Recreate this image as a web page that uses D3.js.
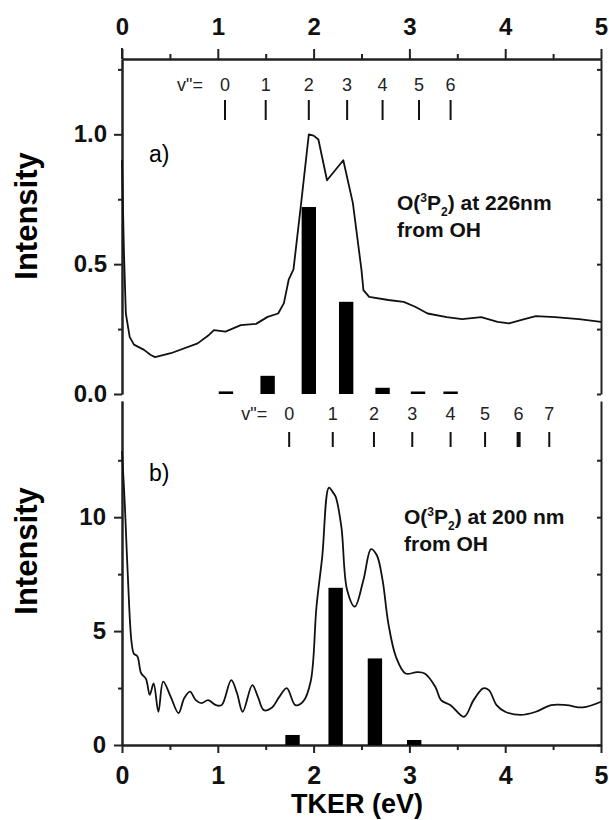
<!DOCTYPE html>
<html>
<head>
<meta charset="utf-8">
<script src="https://cdn.jsdelivr.net/npm/d3@7"></script>
<style>
  body { margin: 0; background: #fff; }
  svg { display: block; font-family: "Liberation Sans", Arial, sans-serif; }
  .axis path, .axis line { stroke: #222; stroke-width: 2; }
  .axis text { font-weight: bold; fill: #111; }
</style>
</head>
<body>
<svg id="chart" width="609" height="820"></svg>
<script>
// ---- data ----
// panel a: O(3P2) at 226 nm
var levelsA = [0, 1, 2, 3, 4, 5, 6];
var levelPosA = [1.075, 1.50, 1.95, 2.35, 2.72, 3.10, 3.43];
var barPosA = [1.085, 1.52, 1.95, 2.34, 2.72, 3.09, 3.43];
var barValA = [0.01, 0.07, 0.72, 0.355, 0.024, 0.008, 0.008];
var lineEnergyA = [0, 0.02, 0.04, 0.08, 0.125, 0.23, 0.3, 0.345, 0.51, 0.79, 0.9, 0.96, 1.08, 1.24, 1.40,
  1.52, 1.63, 1.69, 1.74, 1.79, 1.87, 1.95, 2.0, 2.05, 2.14, 2.31, 2.41, 2.5, 2.52, 2.58, 2.78, 2.94,
  3.06, 3.19, 3.39, 3.55, 3.75, 3.92, 4.04, 4.2, 4.32, 4.52, 4.77, 5.0];
var lineIntA = [0.9, 0.55, 0.31, 0.22, 0.19, 0.17, 0.15, 0.142, 0.157, 0.195, 0.225, 0.246, 0.24, 0.265, 0.27,
  0.297, 0.31, 0.35, 0.44, 0.48, 0.735, 1.0, 0.995, 0.98, 0.823, 0.9, 0.735, 0.477, 0.40, 0.374, 0.362, 0.355,
  0.336, 0.31, 0.296, 0.288, 0.296, 0.278, 0.272, 0.288, 0.30, 0.296, 0.288, 0.278];

// panel b: O(3P2) at 200 nm
var levelsB = [0, 1, 2, 3, 4, 5, 6, 7];
var levelPosB = [1.745, 2.2, 2.63, 3.03, 3.43, 3.79, 4.14, 4.46];
var barPosB = [1.78, 2.23, 2.64, 3.05];
var barValB = [0.44, 6.9, 3.8, 0.22];
var lineEnergyB = [0, 0.03, 0.06, 0.1, 0.125, 0.16, 0.2, 0.25, 0.29, 0.33, 0.38, 0.43, 0.51, 0.59, 0.65, 0.71,
  0.77, 0.83, 0.9, 0.98, 1.04, 1.14, 1.2, 1.26, 1.36, 1.42, 1.48, 1.56, 1.64, 1.72, 1.81, 1.89, 1.97, 2.03,
  2.09, 2.16, 2.2, 2.23, 2.29, 2.35, 2.43, 2.52, 2.6, 2.66, 2.72, 2.78, 2.86, 2.96, 3.08, 3.16, 3.27, 3.33,
  3.43, 3.57, 3.67, 3.77, 3.83, 3.91, 4.0, 4.16, 4.32, 4.48, 4.64, 4.81, 5.0];
var lineIntB = [12.9, 10.5, 7.5, 4.5, 4.0, 3.9, 3.15, 2.9, 2.2, 2.7, 1.46, 2.78, 2.1, 1.4, 2.06, 2.34,
  1.97, 1.84, 1.97, 1.75, 1.75, 2.85, 2.28, 1.46, 2.63, 2.1, 1.53, 1.62, 2.1, 2.5, 1.75, 1.9, 2.8, 6.07,
  8.26, 11.3, 11.1, 10.9, 9.57, 6.8, 6.07, 7.24, 8.6, 8.33, 7.24, 5.34, 3.87, 3.14, 3.2, 3.14, 2.56, 1.97,
  1.75, 1.24, 1.97, 2.49, 2.41, 1.75, 1.46, 1.32, 1.46, 1.75, 1.75, 1.65, 1.9];

var xTicks = [0, 1, 2, 3, 4, 5];
var xMinor = [0.5, 1.5, 2.5, 3.5, 4.5];
var yTicksA = [0, 0.5, 1.0];
var yMinorA = [0.25, 0.75, 1.25];
var yTicksB = [0, 5, 10];
var yMinorB = [2.5, 7.5, 12.5];

// ---- layout ----
var svg = d3.select("#chart");
var left = 122, right = 601;
var topA = 59, bottomA = 394;
var topB = 401, bottomB = 745;

var x = d3.scaleLinear().domain([0, 5]).range([left, right]);
var yA = d3.scaleLinear().domain([0, 1.29]).range([bottomA, topA]);
var yB = d3.scaleLinear().domain([0, 15.1]).range([bottomB, topB]);

function zip(a, b) { return a.map(function (v, i) { return [v, b[i]]; }); }

function drawAxes(g, axis, fs) {
  g.attr("class", "axis").call(axis);
  g.selectAll("text").style("font-size", fs + "px");
}

// top axis (panel a)
drawAxes(svg.append("g").attr("transform", "translate(0," + topA + ")"),
  d3.axisTop(x).tickValues(xTicks).tickSize(10).tickSizeOuter(0).tickPadding(14).tickFormat(d3.format("d")), 24);
drawAxes(svg.append("g").attr("transform", "translate(0," + topA + ")"),
  d3.axisTop(x).tickValues(xMinor).tickSize(5).tickSizeOuter(0).tickFormat(""), 24);

// bottom axis (panel b)
drawAxes(svg.append("g").attr("transform", "translate(0," + bottomB + ")"),
  d3.axisBottom(x).tickValues(xTicks).tickSize(8).tickSizeOuter(0).tickPadding(13).tickFormat(d3.format("d")), 25);
drawAxes(svg.append("g").attr("transform", "translate(0," + bottomB + ")"),
  d3.axisBottom(x).tickValues(xMinor).tickSize(5).tickSizeOuter(0).tickFormat(""), 25);

// left / right axes
drawAxes(svg.append("g").attr("transform", "translate(" + left + ",0)"),
  d3.axisLeft(yA).tickValues(yTicksA).tickSize(8).tickSizeOuter(0).tickPadding(7).tickFormat(d3.format(".1f")), 24);
drawAxes(svg.append("g").attr("transform", "translate(" + left + ",0)"),
  d3.axisLeft(yA).tickValues(yMinorA).tickSize(4).tickSizeOuter(0).tickFormat(""), 24);
drawAxes(svg.append("g").attr("transform", "translate(" + right + ",0)"),
  d3.axisRight(yA).tickValues(yTicksA.concat(yMinorA)).tickSize(-4).tickSizeOuter(0).tickFormat(""), 24);

drawAxes(svg.append("g").attr("transform", "translate(" + left + ",0)"),
  d3.axisLeft(yB).tickValues(yTicksB).tickSize(8).tickSizeOuter(0).tickPadding(8).tickFormat(d3.format("d")), 24);
drawAxes(svg.append("g").attr("transform", "translate(" + left + ",0)"),
  d3.axisLeft(yB).tickValues(yMinorB).tickSize(4).tickSizeOuter(0).tickFormat(""), 24);
drawAxes(svg.append("g").attr("transform", "translate(" + right + ",0)"),
  d3.axisRight(yB).tickValues(yTicksB.concat(yMinorB)).tickSize(-4).tickSizeOuter(0).tickFormat(""), 24);

// left frame sticks up a little above the top axis
svg.append("line").attr("x1", left).attr("x2", left).attr("y1", topA - 11).attr("y2", topA)
  .attr("stroke", "#222").attr("stroke-width", 2);

// ---- bars ----
var barW = x(0.15) - x(0);
function drawBars(pos, val, y) {
  svg.append("g").selectAll("rect").data(zip(pos, val)).enter().append("rect")
    .attr("x", function (d) { return x(d[0]) - barW / 2; })
    .attr("y", function (d) { return Math.min(y(d[1]), y(0) - 2.5); })
    .attr("width", barW)
    .attr("height", function (d) { return Math.max(y(0) - y(d[1]), 2.5); })
    .attr("fill", "#000");
}
drawBars(barPosA, barValA, yA);
drawBars(barPosB, barValB, yB);

// ---- spectra ----
function drawLine(ex, iy, y, curve) {
  var line = d3.line().x(function (d) { return x(d[0]); }).y(function (d) { return y(d[1]); })
    .curve(curve);
  svg.append("path").datum(zip(ex, iy)).attr("d", line)
    .attr("fill", "none").attr("stroke", "#111").attr("stroke-width", 1.8)
    .attr("stroke-linejoin", "round");
}
drawLine(lineEnergyA, lineIntA, yA, d3.curveLinear);
drawLine(lineEnergyB, lineIntB, yB, d3.curveCatmullRom.alpha(0.5));

// ---- vibrational level combs ----
function drawComb(levels, pos, labelY, t0, t1, boldIdx) {
  var g = svg.append("g").style("font-size", "18px").attr("fill", "#222");
  g.append("text").attr("x", x(pos[0]) - 22).attr("y", labelY).attr("text-anchor", "end").text('v"=');
  g.selectAll("text.lv").data(levels).enter().append("text").attr("class", "lv")
    .attr("x", function (d, i) { return x(pos[i]); }).attr("y", labelY)
    .attr("text-anchor", "middle").text(function (d) { return d; });
  g.selectAll("line").data(pos).enter().append("line")
    .attr("x1", function (d) { return x(d); }).attr("x2", function (d) { return x(d); })
    .attr("y1", t0).attr("y2", t1)
    .attr("stroke", "#111").attr("stroke-width", function (d, i) { return i === boldIdx ? 4 : 2; });
}
drawComb(levelsA, levelPosA, 91, 100, 120, -1);
drawComb(levelsB, levelPosB, 420, 432, 447, 6);

// ---- labels ----
function annot(tx, ty, wl) {
  var t = svg.append("text").attr("x", tx).attr("y", ty).style("font-size", "21px")
    .style("font-weight", "bold").attr("fill", "#111");
  t.append("tspan").text("O(");
  t.append("tspan").attr("dy", -8).style("font-size", "12px").text("3");
  t.append("tspan").attr("dy", 8).text("P");
  t.append("tspan").attr("dy", 6).style("font-size", "12px").text("2");
  t.append("tspan").attr("dy", -6).text(") at " + wl);
  svg.append("text").attr("x", tx).attr("y", ty + 27).style("font-size", "21px")
    .style("font-weight", "bold").attr("fill", "#111").text("from OH");
}
annot(397, 210, "226nm");
annot(404, 524, "200 nm");

svg.append("text").attr("x", 149).attr("y", 162).style("font-size", "23px").text("a)");
svg.append("text").attr("x", 149).attr("y", 481).style("font-size", "23px").text("b)");

[[216], [551]].forEach(function (c) {
  svg.append("text").attr("transform", "translate(37," + c[0] + ") rotate(-90)")
    .attr("text-anchor", "middle").style("font-size", "31px").style("font-weight", "bold")
    .text("Intensity");
});

svg.append("text").attr("x", 357).attr("y", 813).attr("text-anchor", "middle")
  .style("font-size", "27px").style("font-weight", "bold").text("TKER (eV)");
</script>
</body>
</html>
